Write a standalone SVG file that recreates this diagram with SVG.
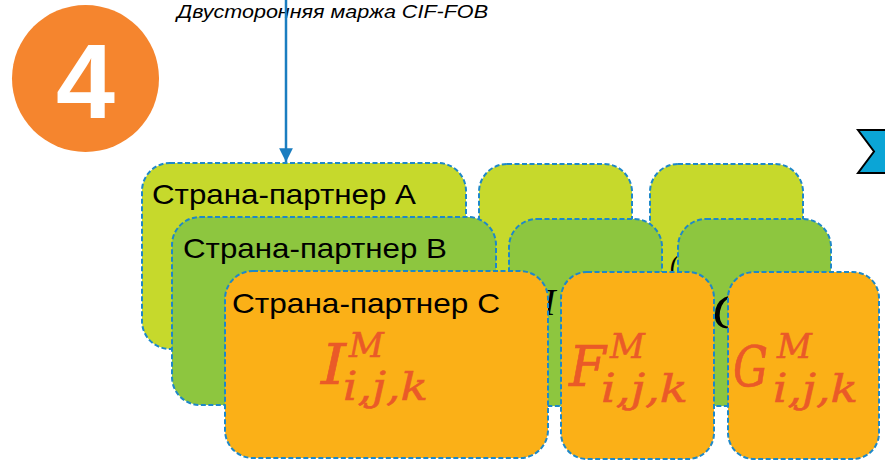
<svg xmlns="http://www.w3.org/2000/svg" width="885" height="462" viewBox="0 0 885 462">
<defs>
<style>
.box{stroke:#1E88C8;stroke-width:2;stroke-dasharray:5 2.5}
.a{fill:#C6D92C}
.b{fill:#8DC63F}
.c{fill:#FBB017}
.lbl{font-family:"Liberation Sans",Arial,sans-serif;font-size:28px;fill:#000}
.f{font-family:"DejaVu Serif",serif;font-style:italic;fill:#EA5A28;stroke:#EA5A28;stroke-width:0.6}
.big{font-size:56px}
.sup{font-size:34px}
.sub{font-size:40px}
.hid{font-family:"Liberation Serif",serif;font-style:italic;fill:#000}
</style>
<marker id="ah" viewBox="0 0 10 10" refX="10" refY="5" markerWidth="6" markerHeight="5.5" markerUnits="strokeWidth" orient="auto">
<path d="M0,0 L10,5 L0,10 Z" fill="#1A7DC0"/>
</marker>
</defs>
<rect width="885" height="462" fill="#fff"/>

<g id="badge">
<circle cx="85.5" cy="78.5" r="73.5" fill="#F5852E"/>
<text x="85.5" y="118" text-anchor="middle" font-family="Liberation Sans,Arial,sans-serif" font-weight="bold" font-size="106" fill="#fff">4</text>
</g>

<g id="title">
<text x="177" y="18" font-family="Liberation Sans,Arial,sans-serif" font-style="italic" font-size="19" textLength="311" lengthAdjust="spacingAndGlyphs" fill="#000">Двусторонняя маржа CIF-FOB</text>
</g>

<g id="chevron">
<polygon points="858,130 890,130 890,173 858,173 874,151.5" fill="#0BA5D6" stroke="#000" stroke-width="2" stroke-linejoin="miter"/>
</g>

<g id="rowA">
<g id="nodeA1"><rect class="box a" x="142" y="163" width="324" height="186" rx="28"/>
<text class="lbl" x="152" y="204" textLength="264" lengthAdjust="spacingAndGlyphs">Страна-партнер A</text></g>
<g id="nodeA2"><rect class="box a" x="479" y="164" width="153" height="185" rx="28"/></g>
<g id="nodeA3"><rect class="box a" x="650" y="164" width="153" height="185" rx="28"/>
<text class="hid" x="670" y="272" font-size="26">(</text></g>
</g>

<g id="rowB">
<g id="nodeB1"><rect class="box b" x="172" y="217" width="324" height="188" rx="28"/>
<text class="lbl" x="183" y="258" textLength="264" lengthAdjust="spacingAndGlyphs">Страна-партнер B</text></g>
<g id="nodeB2"><rect class="box b" x="509" y="219" width="153" height="187" rx="28"/>
<text class="hid" x="543" y="315" font-size="38">I</text></g>
<g id="nodeB3"><rect class="box b" x="678" y="219" width="153" height="187" rx="28"/>
<text class="hid" x="712" y="328" font-size="50">G</text></g>
</g>

<g id="rowC">
<g id="nodeC1"><rect class="box c" x="225" y="271" width="323" height="187" rx="28"/>
<text class="lbl" x="232" y="313" textLength="268" lengthAdjust="spacingAndGlyphs">Страна-партнер C</text>
<text class="f big" x="321" y="384" textLength="25" lengthAdjust="spacingAndGlyphs">I</text>
<text class="f sup" x="349" y="357">M</text>
<text class="f sub" x="343" y="400" textLength="85" lengthAdjust="spacingAndGlyphs">i,j,k</text></g>
<g id="nodeC2"><rect class="box c" x="561" y="272" width="153" height="187" rx="26"/>
<text class="f big" x="569" y="386" textLength="37" lengthAdjust="spacingAndGlyphs">F</text>
<text class="f sup" x="610" y="358">M</text>
<text class="f sub" x="601" y="402" textLength="87" lengthAdjust="spacingAndGlyphs">i,j,k</text></g>
<g id="nodeC3"><rect class="box c" x="728" y="272" width="151" height="187" rx="26"/>
<text class="f big" x="733" y="386" textLength="35" lengthAdjust="spacingAndGlyphs">G</text>
<text class="f sup" x="777" y="358">M</text>
<text class="f sub" x="773" y="402" textLength="85" lengthAdjust="spacingAndGlyphs">i,j,k</text></g>
</g>

<g id="connectors">
<line x1="286" y1="0" x2="286" y2="162" stroke="#1A7DC0" stroke-width="2.5" marker-end="url(#ah)"/>
</g>
</svg>
